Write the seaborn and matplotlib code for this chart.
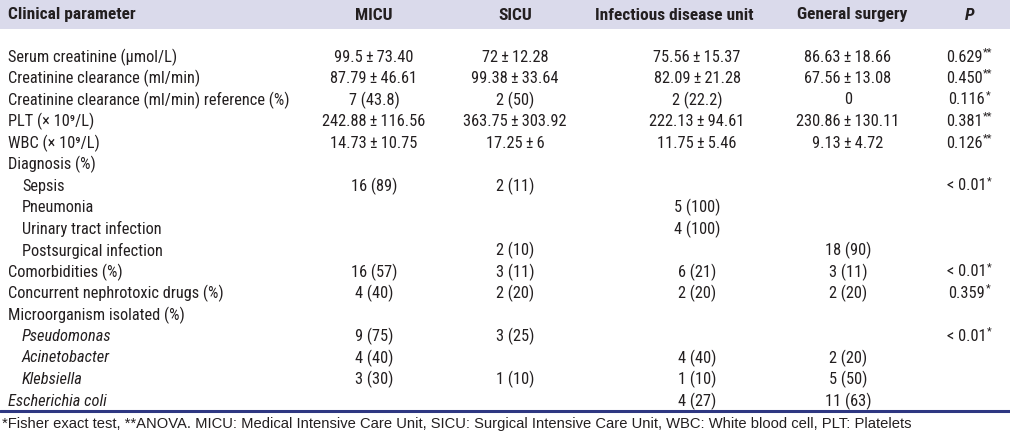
import os

import matplotlib
matplotlib.use("Agg")
import matplotlib.pyplot as plt
import seaborn as sns
from matplotlib import font_manager
from matplotlib.font_manager import FontProperties

# ==================
# Table data
# ==================

params = [
    "Serum creatinine (\u03bcmol/L)",
    "Creatinine clearance (ml/min)",
    "Creatinine clearance (ml/min) reference (%)",
    "PLT (\u00d7 10\u2079/L)",
    "WBC (\u00d7 10\u2079/L)",
    "Diagnosis (%)",
    "Sepsis",
    "Pneumonia",
    "Urinary tract infection",
    "Postsurgical infection",
    "Comorbidities (%)",
    "Concurrent nephrotoxic drugs (%)",
    "Microorganism isolated (%)",
    "Pseudomonas",
    "Acinetobacter",
    "Klebsiella",
    "Escherichia coli",
]
indented = [0, 0, 0, 0, 0, 0, 1, 1, 1, 1, 0, 0, 0, 1, 1, 1, 0]
italic = [0, 0, 0, 0, 0, 0, 0, 0, 0, 0, 0, 0, 0, 1, 1, 1, 1]

PM = "\u2009\u00b1\u2009"

micu = ["99.5" + PM + "73.40", "87.79" + PM + "46.61", "7 (43.8)",
        "242.88" + PM + "116.56", "14.73" + PM + "10.75", "", "16 (89)", "", "",
        "", "16 (57)", "4 (40)", "", "9 (75)", "4 (40)", "3 (30)", ""]
sicu = ["72" + PM + "12.28", "99.38" + PM + "33.64", "2 (50)",
        "363.75" + PM + "303.92", "17.25" + PM + "6", "", "2 (11)", "", "",
        "2 (10)", "3 (11)", "2 (20)", "", "3 (25)", "", "1 (10)", ""]
infectious = ["75.56" + PM + "15.37", "82.09" + PM + "21.28", "2 (22.2)",
              "222.13" + PM + "94.61", "11.75" + PM + "5.46", "", "", "5 (100)",
              "4 (100)", "", "6 (21)", "2 (20)", "", "", "4 (40)", "1 (10)", "4 (27)"]
surgery = ["86.63" + PM + "18.66", "67.56" + PM + "13.08", "0",
           "230.86" + PM + "130.11", "9.13" + PM + "4.72", "", "", "", "",
           "18 (90)", "3 (11)", "2 (20)", "", "", "2 (20)", "5 (50)", "11 (63)"]
p_values = ["0.629", "0.450", "0.116", "0.381", "0.126", "", "< 0.01", "", "", "",
            "< 0.01", "0.359", "", "< 0.01", "", "", ""]
p_marks = ["**", "**", "*", "**", "**", "", "*", "", "", "", "*", "*", "", "*",
           "", "", ""]

headers = ["MICU", "SICU", "Infectious disease unit", "General surgery"]

footnote = ("*Fisher exact test, **ANOVA. MICU: Medical Intensive Care Unit, "
            "SICU: Surgical Intensive Care Unit, WBC: White blood cell, "
            "PLT: Platelets")

# ==================
# Style
# ==================

sns.set_theme(style="white")

# look for a condensed face, the table uses a narrow grotesque
body_family = "Liberation Sans"
body_stretch = "normal"
wanted = ["LiberationSansNarrow", "RobotoCondensed", "Roboto-Condensed",
          "NotoSans-Condensed", "OpenSans-Condensed", "OpenSansCondensed",
          "OpenSans_Condensed", "DejaVuSansCondensed", "Roboto-Regular"]
found = False
for key in wanted:
    for f in font_manager.fontManager.ttflist:
        base = os.path.basename(f.fname)
        if key in base and f.style == "normal" and f.weight in (400, "normal", "regular"):
            body_family = f.name
            body_stretch = f.stretch
            found = True
            break
    if found:
        break

plt.rcParams["font.family"] = [body_family, "DejaVu Sans"]


def face(size, weight="normal", style="normal"):
    return FontProperties(family=[body_family, "DejaVu Sans"], stretch=body_stretch,
                          size=size, weight=weight, style=style)


ink = "#231f20"
band = "#dadaeb"
navy = "#2e3782"
size = 11.8
head_size = 12.5

fig = plt.figure(figsize=(10.1, 4.34), dpi=100)
ax = fig.add_axes([0, 0, 1, 1])
ax.set_xlim(0, 1010)
ax.set_ylim(434, 0)
ax.axis("off")

# header band
ax.axhspan(0, 29, color=band, lw=0)

head_y = 15
ax.text(8, head_y, "Clinical parameter", fontproperties=face(head_size, "bold"),
        color=ink, va="center", ha="left")

head_x = [374, 515, 674, 852]
for x, h in zip(head_x, headers):
    ax.text(x, head_y, h, fontproperties=face(head_size, "bold"), color=ink,
            va="center", ha="center")
ax.text(970, head_y, "P", fontproperties=face(head_size, "bold", "italic"),
        color=ink, va="center", ha="center")

# body rows
row_y0 = 57
row_step = 21.5
value_x = [374, 515, 697, 848]
columns = [micu, sicu, infectious, surgery]

fig.canvas.draw()
renderer = fig.canvas.get_renderer()
inv = ax.transData.inverted()


def text_width(t):
    bb = t.get_window_extent(renderer)
    x0 = inv.transform((bb.x0, bb.y0))[0]
    x1 = inv.transform((bb.x1, bb.y0))[0]
    return x1 - x0


for i, label in enumerate(params):
    y = row_y0 + i * row_step
    ax.text(8 + 14 * indented[i], y, label,
            fontproperties=face(size, "normal", "italic" if italic[i] else "normal"),
            color=ink, va="center", ha="left")
    for x, col in zip(value_x, columns):
        if col[i]:
            ax.text(x, y, col[i], fontproperties=face(size), color=ink,
                    va="center", ha="center")
    if p_values[i]:
        base = ax.text(0, y, p_values[i], fontproperties=face(size), color=ink,
                       va="center", ha="left")
        mark = ax.text(0, y - 5, p_marks[i], fontproperties=face(size * 0.68),
                       color=ink, va="center", ha="left")
        w_base = text_width(base)
        w_mark = text_width(mark)
        left = 969 - (w_base + w_mark) / 2
        base.set_x(left)
        mark.set_x(left + w_base + 0.5)

# bottom rule and footnote
ax.axhline(411, color=navy, lw=2.2)
ax.text(2, 424, footnote, fontsize=10.6, color=ink, va="center", ha="left",
        family=["Liberation Sans", "DejaVu Sans"])

fig.savefig("out.png", dpi=100)
plt.close(fig)
